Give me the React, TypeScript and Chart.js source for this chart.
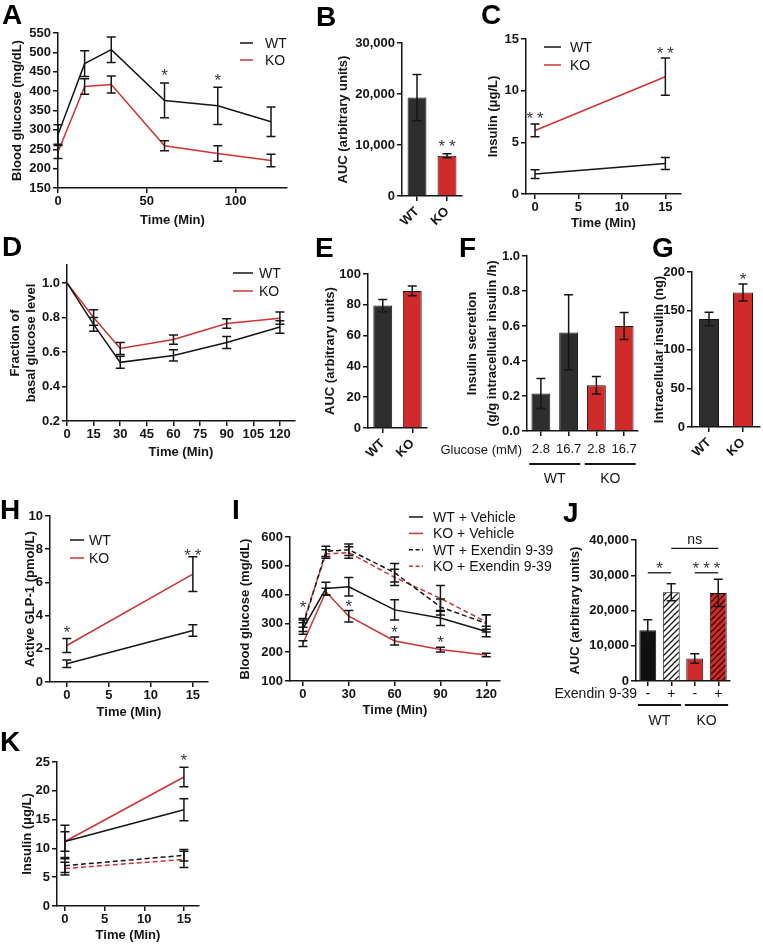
import React, { useEffect, useRef } from 'react';
import { Chart, registerables } from 'chart.js';

Chart.register(...registerables);

const FONT = '"Liberation Sans", Arial, Helvetica, sans-serif';
const INK = '#151515';
const STAR = '#3a3a3a';
const RED_LINE = '#cd3333';
const RED_BAR = '#d02a2a';
const DARK_BAR = '#2e2e2e';

// ---------------- Panel A: GTT blood glucose ----------------
const aTime = [0, 15, 30, 60, 90, 120];
const aWT = [288, 471, 507, 376, 362, 321];
const aWTErr = [25, 33, 33, 45, 48, 38];
const aKO = [243, 412, 417, 259, 239, 221];
const aKOErr = [17, 20, 22, 13, 20, 16];
const aXTicks = [0, 50, 100];
const aYTicks = [150, 200, 250, 300, 350, 400, 450, 500, 550];
const aStars = [{ x: 60, y: 450, text: '*' }, { x: 90, y: 438, text: '*' }];

// ---------------- Panel B: AUC ----------------
const bGroups = ['WT', 'KO'];
const bAUC = [19300, 7900];
const bErr = [4500, 400];
const bYTicks = [0, 10000, 20000, 30000];
const bStars = [{ x: 1, y: 10400, text: '**' }];

// ---------------- Panel C: insulin ----------------
const cTime = [0, 15];
const cWT = [1.93, 2.95];
const cWTErr = [0.42, 0.58];
const cKO = [6.15, 11.35];
const cKOErr = [0.62, 1.8];
const cXTicks = [0, 5, 10, 15];
const cYTicks = [0, 5, 10, 15];
const cStars = [{ x: 0, y: 7.65, text: '**' }, { x: 15, y: 14.0, text: '**' }];

// ---------------- Panel D: ITT fraction ----------------
const dTime = [0, 15, 30, 60, 90, 120];
const dWT = [1.0, 0.76, 0.54, 0.58, 0.655, 0.745];
const dWTErr = [0, 0.04, 0.035, 0.033, 0.035, 0.036];
const dKO = [1.0, 0.8, 0.62, 0.672, 0.765, 0.796];
const dKOErr = [0, 0.045, 0.035, 0.027, 0.027, 0.036];
const dXTicks = [0, 15, 30, 45, 60, 75, 90, 105, 120];
const dYTicks = [0.2, 0.4, 0.6, 0.8, 1.0];

// ---------------- Panel E: AUC ----------------
const eGroups = ['WT', 'KO'];
const eAUC = [79.5, 89];
const eErr = [4, 3.2];
const eYTicks = [0, 20, 40, 60, 80, 100];

// ---------------- Panel F: insulin secretion ----------------
const fGlucose = ['2.8', '16.7', '2.8', '16.7'];
const fSecretion = [0.214, 0.563, 0.261, 0.6];
const fErr = [0.086, 0.215, 0.05, 0.077];
const fYTicks = [0, 0.2, 0.4, 0.6, 0.8, 1.0];
const fGenotypes = ['WT', 'KO'];

// ---------------- Panel G: intracellular insulin ----------------
const gGroups = ['WT', 'KO'];
const gInsulin = [139.5, 173.5];
const gErr = [8.7, 11];
const gYTicks = [0, 50, 100, 150, 200];
const gStars = [{ x: 1, y: 196, text: '*' }];

// ---------------- Panel H: active GLP-1 ----------------
const hTime = [0, 15];
const hWT = [1.1, 3.1];
const hWTErr = [0.22, 0.35];
const hKO = [2.2, 6.5];
const hKOErr = [0.42, 1.05];
const hXTicks = [0, 5, 10, 15];
const hYTicks = [0, 2, 4, 6, 8, 10];
const hStars = [{ x: 0, y: 3.25, text: '*' }, { x: 15, y: 7.85, text: '**' }];

// ---------------- Panel I: GTT with Exendin ----------------
const iTime = [0, 15, 30, 60, 90, 120];
const iWTVeh = [282, 421, 427, 347, 319, 272];
const iWTVehErr = [20, 22, 32, 35, 26, 18];
const iKOVeh = [230, 410, 325, 239, 209, 190];
const iKOVehErr = [10, 12, 20, 14, 8, 6];
const iWTEx = [292, 550, 556, 476, 357, 300];
const iWTExErr = [20, 18, 20, 32, 28, 30];
const iKOEx = [302, 541, 546, 460, 387, 305];
const iKOExErr = [15, 15, 20, 28, 45, 25];
const iXTicks = [0, 30, 60, 90, 120];
const iYTicks = [100, 200, 300, 400, 500, 600];
const iStars = [
  { x: 0, y: 370, text: '*' },
  { x: 30, y: 372, text: '*' },
  { x: 60, y: 284, text: '*' },
  { x: 90, y: 249, text: '*' },
];

// ---------------- Panel J: AUC with Exendin ----------------
const jExendin = ['-', '+', '-', '+'];
const jAUC = [14400, 25200, 6400, 25000];
const jErr = [3000, 2400, 1350, 3900];
const jYTicks = [0, 10000, 20000, 30000, 40000];
const jGenotypes = ['WT', 'KO'];
const jBrackets = [
  { from: 0, to: 1, y: 30700, text: '*' },
  { from: 2, to: 3, y: 30700, text: '***' },
  { from: 1, to: 3, y: 37650, text: 'ns' },
];

// ---------------- Panel K: insulin with Exendin ----------------
const kTime = [0, 15];
const kWTVeh = [11.2, 16.7];
const kWTVehErr = [2.8, 1.9];
const kKOVeh = [11.2, 22.4];
const kKOVehErr = [1.7, 1.7];
const kWTEx = [7.0, 8.8];
const kWTExErr = [1.2, 1.0];
const kKOEx = [6.5, 8.1];
const kKOExErr = [1.1, 1.4];
const kXTicks = [0, 5, 10, 15];
const kYTicks = [0, 5, 10, 15, 20, 25];
const kStars = [{ x: 15, y: 26.0, text: '*' }];

// ================= helpers =================
type Rect = { l: number; t: number; w: number; h: number };
type Area = { l: number; t: number; r: number; b: number };
type LegendItem = { text: string; color: string; dash?: number[] };
type Legend = { x: number; y: number; row: number; len: number; gap: number; items: LegendItem[] };
type Note = { x: number; y: number; text: string };

const fmtComma = (v: number) => Number(v).toLocaleString('en-US');
const fmt1 = (v: number) => Number(v).toFixed(1);
const fmtInt = (v: number) => String(v);

function font(size: number, bold: boolean, lineHeight = 1.2) {
  return { family: FONT, size, weight: bold ? 'bold' : 'normal', lineHeight };
}

function gridOpts() {
  return {
    display: true,
    drawOnChartArea: false,
    drawTicks: true,
    tickLength: 5,
    tickWidth: 1.5,
    tickColor: INK,
    color: INK,
    lineWidth: 1.5,
    offset: false,
  };
}

const borderOpts = { display: true, color: INK, width: 1.5 };

function yAxis(rect: Rect, area: Area, min: number, max: number, ticks: number[], fmt: (v: number) => string, title: any, titlePad: number, titleLH = 1.2) {
  return {
    type: 'linear',
    position: 'left',
    min,
    max,
    grid: gridOpts(),
    border: borderOpts,
    ticks: { color: INK, font: font(13, true), padding: 2, autoSkip: false, callback: (v: any) => fmt(v) },
    afterBuildTicks: (s: any) => {
      s.ticks = ticks.map((v) => ({ value: v }));
    },
    afterFit: (s: any) => {
      s.width = area.l - rect.l;
    },
    title: { display: true, text: title, color: INK, font: font(13, true, titleLH), padding: { top: titlePad, bottom: 0 } },
  };
}

function xLin(rect: Rect, area: Area, min: number, max: number, ticks: number[], title: string, titlePad: number) {
  return {
    type: 'linear',
    position: 'bottom',
    min,
    max,
    grid: gridOpts(),
    border: borderOpts,
    ticks: { color: INK, font: font(13, true), padding: 1, maxRotation: 0, minRotation: 0, autoSkip: false, callback: (v: any) => String(v) },
    afterBuildTicks: (s: any) => {
      s.ticks = ticks.map((v) => ({ value: v }));
    },
    afterFit: (s: any) => {
      s.height = rect.t + rect.h - area.b;
    },
    title: { display: true, text: title, color: INK, font: font(13, true), padding: { top: 0, bottom: titlePad } },
  };
}

function xCat(rect: Rect, area: Area, rotate: boolean, bold: boolean, size: number, pad: number) {
  return {
    type: 'category',
    position: 'bottom',
    offset: true,
    grid: gridOpts(),
    border: borderOpts,
    ticks: {
      color: INK,
      font: font(size, bold),
      padding: pad,
      minRotation: rotate ? 45 : 0,
      maxRotation: rotate ? 45 : 0,
      autoSkip: false,
    },
    afterFit: (s: any) => {
      s.height = rect.t + rect.h - area.b;
    },
  };
}

function baseOptions(rect: Rect, area: Area, scales: any) {
  return {
    responsive: false,
    maintainAspectRatio: false,
    animation: false,
    devicePixelRatio: 1,
    events: [],
    layout: { padding: { left: 0, bottom: 0, top: area.t - rect.t, right: rect.l + rect.w - area.r } },
    plugins: { legend: { display: false }, tooltip: { enabled: false }, title: { display: false } },
    scales,
  };
}

function lineDs(xs: number[], ys: number[], err: number[], color: string, dash: number[] = []) {
  return {
    data: xs.map((x, i) => ({ x, y: ys[i] })),
    err,
    borderColor: color,
    backgroundColor: color,
    borderWidth: 1.5,
    borderDash: dash,
    pointRadius: 0,
    fill: false,
    tension: 0,
  };
}

function drawText(ctx: CanvasRenderingContext2D, text: string, x: number, yCenter: number, align: CanvasTextAlign = 'center') {
  const isStar = text.includes('*');
  const size = isStar ? 17 : 14;
  ctx.save();
  ctx.fillStyle = isStar ? STAR : INK;
  ctx.font = `${size}px ${FONT}`;
  ctx.textAlign = align;
  ctx.textBaseline = 'alphabetic';
  let dx = 0;
  if (isStar && text.length > 1) {
    (ctx as any).letterSpacing = '4px';
    dx = 2;
  }
  ctx.fillText(text, x + dx, yCenter + (isStar ? 0.56 : 0.27) * size);
  ctx.restore();
}

function decor(rect: Rect, legend?: Legend, notes?: Note[], extra?: (chart: any, ctx: CanvasRenderingContext2D) => void) {
  return {
    id: 'decor',
    afterDatasetsDraw(chart: any) {
      const ctx: CanvasRenderingContext2D = chart.ctx;
      const ys = chart.scales.y;
      chart.data.datasets.forEach((ds: any, di: number) => {
        if (!ds.err) return;
        const meta = chart.getDatasetMeta(di);
        meta.data.forEach((el: any, i: number) => {
          const e = ds.err[i];
          if (!e) return;
          const raw = ds.data[i];
          const v = typeof raw === 'number' ? raw : raw.y;
          const x = el.x;
          const y1 = ys.getPixelForValue(v + e);
          const y2 = ys.getPixelForValue(v - e);
          const cap = 4.5;
          ctx.save();
          ctx.strokeStyle = INK;
          ctx.lineWidth = 1.5;
          ctx.setLineDash([]);
          ctx.beginPath();
          ctx.moveTo(x, y1);
          ctx.lineTo(x, y2);
          ctx.moveTo(x - cap, y1);
          ctx.lineTo(x + cap, y1);
          ctx.moveTo(x - cap, y2);
          ctx.lineTo(x + cap, y2);
          ctx.stroke();
          ctx.restore();
        });
      });
    },
    afterDraw(chart: any) {
      const ctx: CanvasRenderingContext2D = chart.ctx;
      const xs = chart.scales.x;
      const ys = chart.scales.y;
      if (notes) {
        notes.forEach((n) => drawText(ctx, n.text, xs.getPixelForValue(n.x), ys.getPixelForValue(n.y)));
      }
      if (legend) {
        legend.items.forEach((it, k) => {
          const y = legend.y + k * legend.row - rect.t;
          const x0 = legend.x - rect.l;
          ctx.save();
          ctx.strokeStyle = it.color;
          ctx.lineWidth = 1.5;
          ctx.setLineDash(it.dash || []);
          ctx.beginPath();
          ctx.moveTo(x0, y);
          ctx.lineTo(x0 + legend.len, y);
          ctx.stroke();
          ctx.setLineDash([]);
          ctx.fillStyle = INK;
          ctx.font = `14px ${FONT}`;
          ctx.textAlign = 'left';
          ctx.textBaseline = 'middle';
          ctx.fillText(it.text, x0 + legend.len + legend.gap, y + 1);
          ctx.restore();
        });
      }
      if (extra) extra(chart, ctx);
    },
  };
}

function hatch(ctx: CanvasRenderingContext2D, bg: string, fg: string) {
  const c = document.createElement('canvas');
  c.width = 6;
  c.height = 6;
  const g = c.getContext('2d')!;
  g.fillStyle = bg;
  g.fillRect(0, 0, 6, 6);
  g.strokeStyle = fg;
  g.lineWidth = 1.3;
  g.beginPath();
  g.moveTo(0, 6);
  g.lineTo(6, 0);
  g.moveTo(-3, 3);
  g.lineTo(3, -3);
  g.moveTo(3, 9);
  g.lineTo(9, 3);
  g.stroke();
  return ctx.createPattern(c, 'repeat');
}

type Spec = { rect: Rect; make: (ctx: CanvasRenderingContext2D) => any };

// ================= panels =================
function panelA(): Spec {
  const rect = { l: 0, t: 10, w: 295, h: 225 };
  const area = { l: 58, t: 33, r: 287, b: 188 };
  const legend: Legend = {
    x: 240, y: 43, row: 17, len: 13, gap: 12,
    items: [{ text: 'WT', color: INK }, { text: 'KO', color: RED_LINE }],
  };
  return {
    rect,
    make: () => ({
      type: 'line',
      data: { datasets: [lineDs(aTime, aWT, aWTErr, INK), lineDs(aTime, aKO, aKOErr, RED_LINE)] },
      options: baseOptions(rect, area, {
        x: xLin(rect, area, 0, 129, aXTicks, 'Time (Min)', 7.2),
        y: yAxis(rect, area, 150, 550, aYTicks, fmtInt, 'Blood glucose (mg/dL)', 9.7),
      }),
      plugins: [decor(rect, legend, aStars)],
    }),
  };
}

function panelB(): Spec {
  const rect = { l: 330, t: 25, w: 140, h: 215 };
  const area = { l: 402, t: 43, r: 462, b: 196 };
  return {
    rect,
    make: () => ({
      type: 'bar',
      data: {
        labels: bGroups,
        datasets: [{ data: bAUC, err: bErr, backgroundColor: [DARK_BAR, RED_BAR], borderColor: INK, borderWidth: 1, barPercentage: 0.63, categoryPercentage: 1 }],
      },
      options: baseOptions(rect, area, {
        x: xCat(rect, area, true, true, 13, 3),
        y: yAxis(rect, area, 0, 30000, bYTicks, fmtComma, 'AUC (arbitrary units)', 5.2),
      }),
      plugins: [decor(rect, undefined, bStars)],
    }),
  };
}

function panelC(): Spec {
  const rect = { l: 470, t: 20, w: 293, h: 215 };
  const area = { l: 526, t: 39, r: 681, b: 194 };
  const legend: Legend = {
    x: 544, y: 47, row: 18, len: 17, gap: 9,
    items: [{ text: 'WT', color: INK }, { text: 'KO', color: RED_LINE }],
  };
  return {
    rect,
    make: () => ({
      type: 'line',
      data: { datasets: [lineDs(cTime, cWT, cWTErr, INK), lineDs(cTime, cKO, cKOErr, RED_LINE)] },
      options: baseOptions(rect, area, {
        x: xLin(rect, area, -1.04, 16.8, cXTicks, 'Time (Min)', 4.2),
        y: yAxis(rect, area, 0, 15, cYTicks, fmtInt, 'Insulin (μg/L)', 15.2),
      }),
      plugins: [decor(rect, legend, cStars)],
    }),
  };
}

function panelD(): Spec {
  const rect = { l: 0, t: 245, w: 300, h: 215 };
  const area = { l: 67, t: 265, r: 295, b: 421 };
  const legend: Legend = {
    x: 233, y: 273, row: 18, len: 20, gap: 6,
    items: [{ text: 'WT', color: INK }, { text: 'KO', color: RED_LINE }],
  };
  return {
    rect,
    make: () => ({
      type: 'line',
      data: { datasets: [lineDs(dTime, dWT, dWTErr, INK), lineDs(dTime, dKO, dKOErr, RED_LINE)] },
      options: baseOptions(rect, area, {
        x: xLin(rect, area, 0, 128.5, dXTicks, 'Time (Min)', 0.2),
        y: yAxis(rect, area, 0.2, 1.104, dYTicks, fmt1, ['Fraction of', 'basal glucose level'], 6.5, 1.3),
      }),
      plugins: [decor(rect, legend)],
    }),
  };
}

function panelE(): Spec {
  const rect = { l: 315, t: 255, w: 120, h: 230 };
  const area = { l: 368, t: 274, r: 427, b: 428 };
  return {
    rect,
    make: () => ({
      type: 'bar',
      data: {
        labels: eGroups,
        datasets: [{ data: eAUC, err: eErr, backgroundColor: [DARK_BAR, RED_BAR], borderColor: INK, borderWidth: 1, barPercentage: 0.64, categoryPercentage: 1 }],
      },
      options: baseOptions(rect, area, {
        x: xCat(rect, area, true, true, 13, 3),
        y: yAxis(rect, area, 0, 100, eYTicks, fmtInt, 'AUC (arbitrary units)', 7.2),
      }),
      plugins: [decor(rect)],
    }),
  };
}

function panelF(): Spec {
  const rect = { l: 438, t: 240, w: 212, h: 250 };
  const area = { l: 527, t: 256, r: 638, b: 431 };
  const extra = (chart: any, ctx: CanvasRenderingContext2D) => {
    const xs = chart.scales.x;
    const cw = (xs.right - xs.left) / fGlucose.length;
    ctx.save();
    ctx.fillStyle = INK;
    ctx.font = `13px ${FONT}`;
    ctx.textAlign = 'right';
    ctx.textBaseline = 'middle';
    ctx.fillText('Glucose (mM)', 522 - rect.l, 450 - rect.t);
    fGenotypes.forEach((g, k) => {
      const a = xs.getPixelForValue(2 * k) - 0.42 * cw;
      const b = xs.getPixelForValue(2 * k + 1) + 0.42 * cw;
      ctx.strokeStyle = INK;
      ctx.lineWidth = 2;
      ctx.beginPath();
      ctx.moveTo(a, 464 - rect.t);
      ctx.lineTo(b, 464 - rect.t);
      ctx.stroke();
      ctx.font = `14px ${FONT}`;
      ctx.textAlign = 'center';
      ctx.fillText(g, (a + b) / 2, 479 - rect.t);
    });
    ctx.restore();
  };
  return {
    rect,
    make: () => ({
      type: 'bar',
      data: {
        labels: fGlucose,
        datasets: [{ data: fSecretion, err: fErr, backgroundColor: [DARK_BAR, DARK_BAR, RED_BAR, RED_BAR], borderColor: INK, borderWidth: 1, barPercentage: 0.68, categoryPercentage: 1 }],
      },
      options: baseOptions(rect, area, {
        x: xCat(rect, area, false, false, 13, 6),
        y: yAxis(rect, area, 0, 1.0, fYTicks, fmt1, ['Insulin secretion', '(g/g intracellular insulin /h)'], 23.6, 1.6),
      }),
      plugins: [decor(rect, undefined, undefined, extra)],
    }),
  };
}

function panelG(): Spec {
  const rect = { l: 645, t: 250, w: 118, h: 235 };
  const area = { l: 692, t: 272, r: 760, b: 427 };
  return {
    rect,
    make: () => ({
      type: 'bar',
      data: {
        labels: gGroups,
        datasets: [{ data: gInsulin, err: gErr, backgroundColor: [DARK_BAR, RED_BAR], borderColor: INK, borderWidth: 1, barPercentage: 0.59, categoryPercentage: 1 }],
      },
      options: baseOptions(rect, area, {
        x: xCat(rect, area, true, true, 13, 3),
        y: yAxis(rect, area, 0, 200, gYTicks, fmtInt, 'Intracellular insulin (ng)', 7.0),
      }),
      plugins: [decor(rect, undefined, gStars)],
    }),
  };
}

function panelH(): Spec {
  const rect = { l: 0, t: 495, w: 230, h: 230 };
  const area = { l: 50, t: 516, r: 208, b: 682 };
  const legend: Legend = {
    x: 70, y: 540, row: 18, len: 14, gap: 5,
    items: [{ text: 'WT', color: INK }, { text: 'KO', color: RED_LINE }],
  };
  return {
    rect,
    make: () => ({
      type: 'line',
      data: { datasets: [lineDs(hTime, hWT, hWTErr, INK), lineDs(hTime, hKO, hKOErr, RED_LINE)] },
      options: baseOptions(rect, area, {
        x: xLin(rect, area, -2.0, 16.8, hXTicks, 'Time (Min)', 5.2),
        y: yAxis(rect, area, 0, 10, hYTicks, fmtInt, 'Active GLP-1 (pmol/L)', 22.2),
      }),
      plugins: [decor(rect, legend, hStars)],
    }),
  };
}

function panelI(): Spec {
  const rect = { l: 230, t: 495, w: 325, h: 230 };
  const area = { l: 290, t: 537, r: 500, b: 681 };
  const legend: Legend = {
    x: 409, y: 517, row: 16.4, len: 14, gap: 10,
    items: [
      { text: 'WT + Vehicle', color: INK },
      { text: 'KO + Vehicle', color: RED_LINE },
      { text: 'WT + Exendin 9-39', color: INK, dash: [4, 2.5] },
      { text: 'KO + Exendin 9-39', color: RED_LINE, dash: [4, 2.5] },
    ],
  };
  return {
    rect,
    make: () => ({
      type: 'line',
      data: {
        datasets: [
          lineDs(iTime, iWTVeh, iWTVehErr, INK),
          lineDs(iTime, iKOVeh, iKOVehErr, RED_LINE),
          lineDs(iTime, iWTEx, iWTExErr, INK, [5, 3]),
          lineDs(iTime, iKOEx, iKOExErr, RED_LINE, [5, 3]),
        ],
      },
      options: baseOptions(rect, area, {
        x: xLin(rect, area, -8.5, 129, iXTicks, 'Time (Min)', 7.2),
        y: yAxis(rect, area, 100, 600, iYTicks, fmtInt, 'Blood glucose (mg/dL)', 7.2),
      }),
      plugins: [decor(rect, legend, iStars)],
    }),
  };
}

function panelJ(): Spec {
  const rect = { l: 535, t: 520, w: 228, h: 215 };
  const area = { l: 636, t: 540, r: 730, b: 681 };
  const extra = (chart: any, ctx: CanvasRenderingContext2D) => {
    const xs = chart.scales.x;
    const ys = chart.scales.y;
    const cw = (xs.right - xs.left) / jExendin.length;
    ctx.save();
    ctx.fillStyle = INK;
    ctx.font = `14px ${FONT}`;
    ctx.textAlign = 'right';
    ctx.textBaseline = 'middle';
    ctx.fillText('Exendin 9-39', 637 - rect.l, 694 - rect.t);
    jGenotypes.forEach((g, k) => {
      const a = xs.getPixelForValue(2 * k) - 0.42 * cw;
      const b = xs.getPixelForValue(2 * k + 1) + 0.42 * cw;
      ctx.strokeStyle = INK;
      ctx.lineWidth = 2;
      ctx.beginPath();
      ctx.moveTo(a, 705 - rect.t);
      ctx.lineTo(b, 705 - rect.t);
      ctx.stroke();
      ctx.textAlign = 'center';
      ctx.fillText(g, (a + b) / 2, 721 - rect.t);
    });
    jBrackets.forEach((br) => {
      const a = xs.getPixelForValue(br.from);
      const b = xs.getPixelForValue(br.to);
      const y = ys.getPixelForValue(br.y);
      ctx.strokeStyle = INK;
      ctx.lineWidth = 1.3;
      ctx.beginPath();
      ctx.moveTo(a, y);
      ctx.lineTo(b, y);
      ctx.stroke();
      drawText(ctx, br.text, (a + b) / 2, y - 8);
    });
    ctx.restore();
  };
  return {
    rect,
    make: (ctx) => ({
      type: 'bar',
      data: {
        labels: jExendin,
        datasets: [
          {
            data: jAUC,
            err: jErr,
            backgroundColor: ['#101010', hatch(ctx, '#ffffff', '#1a1a1a'), RED_BAR, hatch(ctx, RED_BAR, '#3a0808')],
            borderColor: INK,
            borderWidth: 1,
            barPercentage: 0.72,
            categoryPercentage: 1,
          },
        ],
      },
      options: baseOptions(rect, area, {
        x: xCat(rect, area, false, false, 14, 0),
        y: yAxis(rect, area, 0, 40000, jYTicks, fmtComma, 'AUC (arbitrary units)', 32.2),
      }),
      plugins: [decor(rect, undefined, undefined, extra)],
    }),
  };
}

function panelK(): Spec {
  const rect = { l: 0, t: 740, w: 230, h: 204 };
  const area = { l: 57, t: 762, r: 199, b: 906 };
  return {
    rect,
    make: () => ({
      type: 'line',
      data: {
        datasets: [
          lineDs(kTime, kWTVeh, kWTVehErr, INK),
          lineDs(kTime, kKOVeh, kKOVehErr, RED_LINE),
          lineDs(kTime, kWTEx, kWTExErr, INK, [5, 3]),
          lineDs(kTime, kKOEx, kKOExErr, RED_LINE, [5, 3]),
        ],
      },
      options: baseOptions(rect, area, {
        x: xLin(rect, area, -1.0, 16.9, kXTicks, 'Time (Min)', 1.2),
        y: yAxis(rect, area, 0, 25, kYTicks, fmtInt, 'Insulin (μg/L)', 19.2),
      }),
      plugins: [decor(rect, undefined, kStars)],
    }),
  };
}

const SPECS: Spec[] = [panelA(), panelB(), panelC(), panelD(), panelE(), panelF(), panelG(), panelH(), panelI(), panelJ(), panelK()];

const LETTERS = [
  { t: 'A', x: 2, y: 5 },
  { t: 'B', x: 316, y: 7 },
  { t: 'C', x: 481, y: 5 },
  { t: 'D', x: 2, y: 237 },
  { t: 'E', x: 315, y: 238 },
  { t: 'F', x: 459, y: 238 },
  { t: 'G', x: 652, y: 238 },
  { t: 'H', x: 0, y: 500 },
  { t: 'I', x: 232, y: 500 },
  { t: 'J', x: 563, y: 503 },
  { t: 'K', x: 0, y: 732 },
];

function ChartPanel({ spec }: { spec: Spec }) {
  const ref = useRef<HTMLCanvasElement>(null);
  useEffect(() => {
    const cv = ref.current!;
    const ctx = cv.getContext('2d')!;
    const chart = new Chart(cv, spec.make(ctx));
    return () => chart.destroy();
  }, [spec]);
  const r = spec.rect;
  return (
    <canvas
      ref={ref}
      width={r.w}
      height={r.h}
      style={{ position: 'absolute', left: r.l, top: r.t, width: r.w, height: r.h }}
    />
  );
}

export default function App() {
  return (
    <div style={{ position: 'absolute', left: 0, top: 0, width: 763, height: 944, background: '#ffffff', overflow: 'hidden' }}>
      {SPECS.map((s, i) => (
        <ChartPanel key={i} spec={s} />
      ))}
      {LETTERS.map((L) => (
        <div
          key={L.t}
          style={{
            position: 'absolute',
            left: L.x,
            top: L.y - 4,
            font: `bold 28px ${FONT}`,
            lineHeight: '28px',
            color: '#000',
          }}
        >
          {L.t}
        </div>
      ))}
    </div>
  );
}
